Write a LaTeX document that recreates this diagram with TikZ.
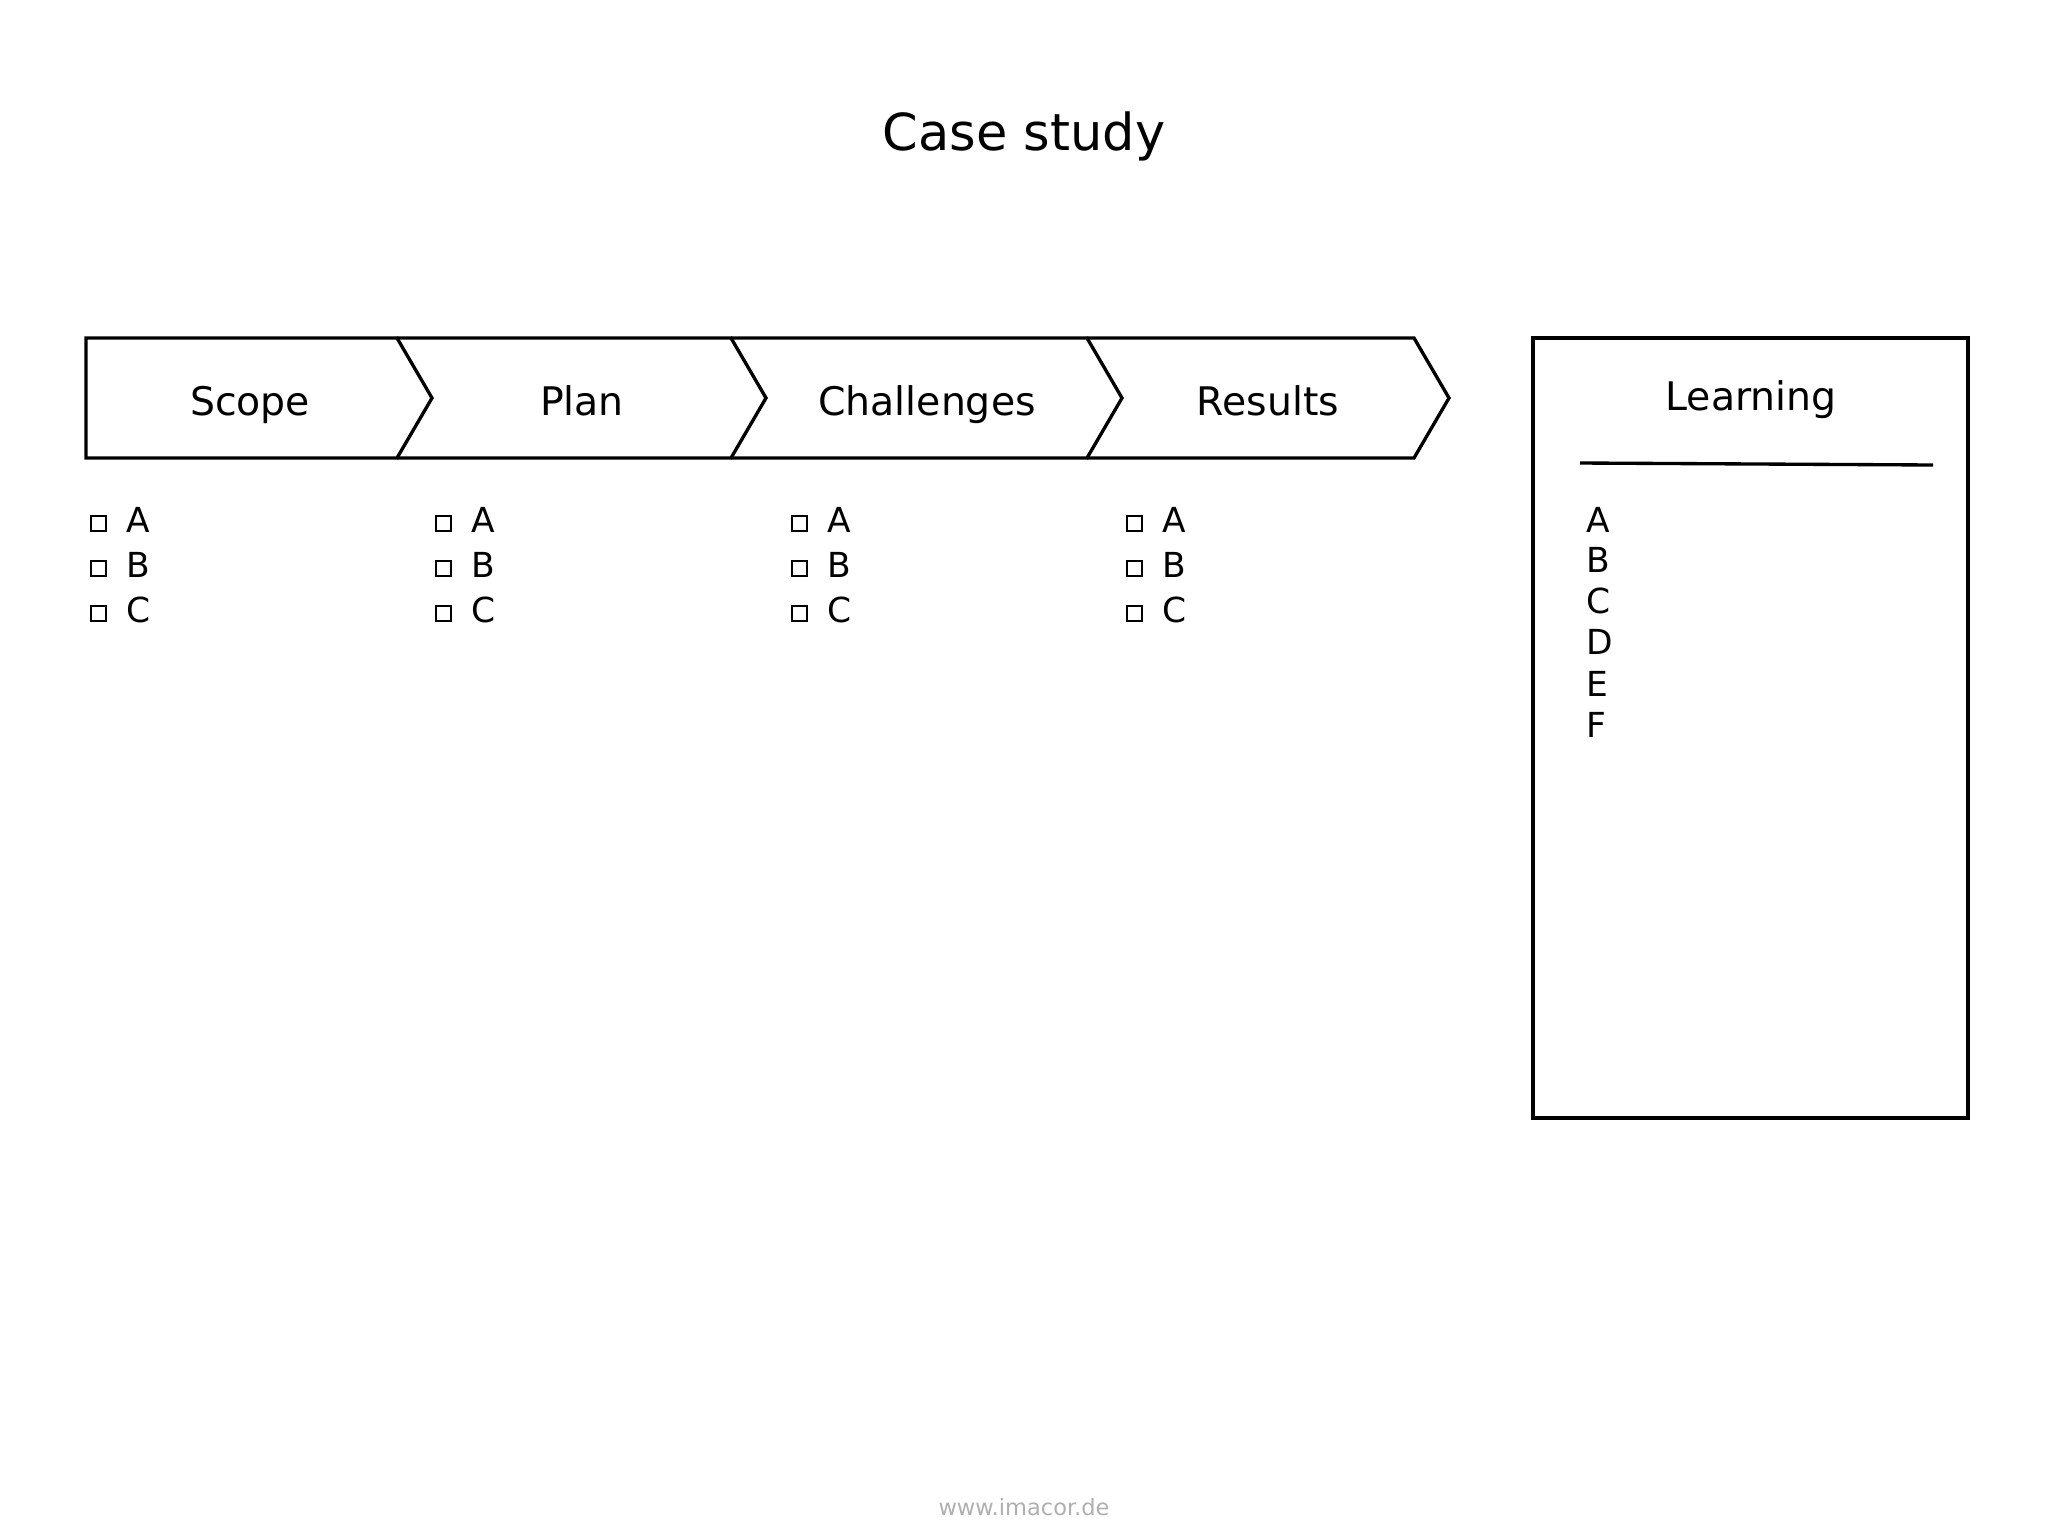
\documentclass[tikz,border=0pt]{standalone}
\usepackage{fontspec}
\setmainfont{DejaVu Sans}
\definecolor{footgray}{RGB}{175,175,175}

\begin{document}
\begin{tikzpicture}[x=0.01cm,y=-0.01cm,line width=0.95pt,
  stage/.style={font=\fontsize{11.2}{13}\selectfont,anchor=base},
  item/.style={font=\fontsize{9.8}{12}\selectfont,anchor=base west,inner sep=0pt},
  tickbox/.style={draw,line width=0.6pt,inner sep=0pt,minimum size=0.15cm,anchor=south west}]
  \useasboundingbox (0,0) rectangle (2048,1536);
  \node [anchor=base,font=\fontsize{14.5}{17}\selectfont] (title) at (1024,150) {Case study};
  % process chevrons
  \draw [black] (86,338) -- (397,338) -- (432,398) -- (397,458) -- (86,458) -- cycle;
  \draw [black] (397,338) -- (731,338) -- (766,398) -- (731,458) -- (397,458);
  \draw [black] (731,338) -- (1087,338) -- (1122,398) -- (1087,458) -- (731,458);
  \draw [black] (1087,338) -- (1414,338) -- (1449,398) -- (1414,458) -- (1087,458);
  \node [stage] (scope) at (250,415) {Scope};
  \node [stage] (plan) at (582,415) {Plan};
  \node [stage] (chal) at (927,415) {Challenges};
  \node [stage] (res) at (1268,415) {Results};
  % check lists below the chevrons
  \foreach \x/\c in {90/scope,435/plan,791/chal,1126/res}
    \foreach \y/\l in {532/A,577/B,622/C} {
      \node [tickbox] (\c-box-\l) at (\x,\y) {};
      \node [item] (\c-\l) at (\x+35,\y) {\l};
    }
  % learning panel
  \draw [black] (1533,338) rectangle (1968,1118);
  \node [stage] (learn) at (1751,410) {Learning};
  \draw [black] (1580,463) -- (1933,465);
  \foreach \y/\l in {532/A,572/B,613/C,654/D,696/E,737/F}
    \node [item] (learn-\l) at (1585,\y) {\l};
  \node [anchor=base,font=\fontsize{6.4}{8}\selectfont,text=footgray] (footer) at (1024,1515) {www.imacor.de};
\end{tikzpicture}
\end{document}
